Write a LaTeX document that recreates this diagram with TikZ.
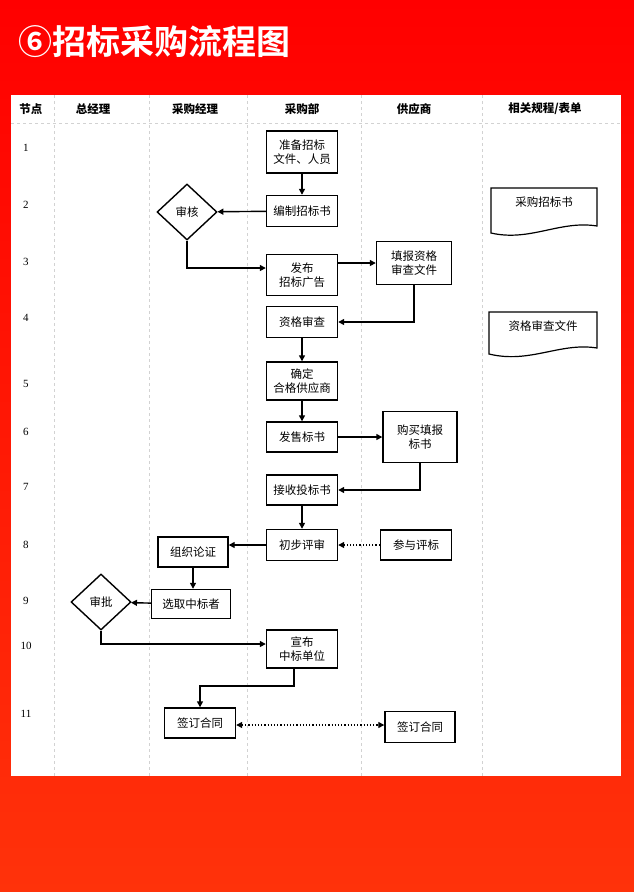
\documentclass[tikz,border=0pt]{standalone}
\usepackage{fontspec}
\setmainfont{Noto Sans CJK SC}
\newfontfamily\titlefont{Noto Sans CJK SC Bold}
\newfontfamily\numfont{Liberation Serif}
\usetikzlibrary{shapes.geometric,arrows.meta}
\begin{document}
\begin{tikzpicture}[x=1pt,y=-1pt,
  box/.style={draw,line width=1.4pt,align=center,inner sep=1pt,font=\fontsize{11.5}{13.5}\selectfont},
  dia/.style={draw,diamond,line width=1.4pt,minimum width=60pt,minimum height=56pt,inner sep=0pt,aspect=1.07,font=\fontsize{11.5}{13.5}\selectfont},
  arr/.style={line width=1.4pt,-{Triangle[length=6pt,width=6pt]}},
  dot/.style={line width=1.2pt,dotted},
  grid/.style={gray!35,dashed,line width=0.5pt},
  hdr/.style={font=\bfseries\fontsize{11.5}{13}\selectfont},
  num/.style={font=\numfont\fontsize{11}{12}\selectfont},
  doc/.style={draw,line width=1.2pt}]
\useasboundingbox (0,0) rectangle (634,892);
\shade[top color=red, bottom color={rgb,255:red,255;green,50;blue,10}] (0,0) rectangle (634,892);
\node[anchor=west,text=white,font=\titlefont\fontsize{34}{37}\selectfont] (title) at (15,42) {⑥招标采购流程图};
\fill[white] (11,95) rectangle (621,776);
\foreach \xx in {54,149,247,361,482} \draw[grid] (\xx,95) -- (\xx,776);
\draw[grid] (11,123) -- (621,123);
% headers
\node[hdr] (h0) at (31,109) {节点};
\node[hdr] (h1) at (93,109) {总经理};
\node[hdr] (h2) at (195,109) {采购经理};
\node[hdr] (h3) at (302,109) {采购部};
\node[hdr] (h4) at (414,109) {供应商};
\node[hdr] (h5) at (545,109) {相关规程/表单};
% row numbers
\foreach \n/\yy in {1/148,2/205,3/262,4/318,5/384,6/432,7/487,8/545,9/601,10/646,11/714}
  \node[num] (r\n) at (26,\yy) {\n};
% nodes
\node[box,minimum width=71pt,minimum height=42pt] (a1) at (302,152) {准备招标\\文件、人员};
\node[box,minimum width=71pt,minimum height=31pt] (a2) at (302,211) {编制招标书};
\node[dia] (sh) at (187,212) {审核};
\node[box,minimum width=71pt,minimum height=41pt] (a3) at (302,275) {发布\\招标广告};
\node[box,minimum width=75pt,minimum height=43pt] (s3) at (414,263) {填报资格\\审查文件};
\node[box,minimum width=71pt,minimum height=31pt] (a4) at (302,322) {资格审查};
\node[box,minimum width=71pt,minimum height=38pt] (a5) at (302,381) {确定\\合格供应商};
\node[box,minimum width=71pt,minimum height=30pt] (a6) at (302,437) {发售标书};
\node[box,minimum width=74pt,minimum height=51pt] (s6) at (420,437) {购买填报\\标书};
\node[box,minimum width=71pt,minimum height=30pt] (a7) at (302,490) {接收投标书};
\node[box,minimum width=71pt,minimum height=31pt] (a8) at (302,545) {初步评审};
\node[box,minimum width=71pt,minimum height=30pt] (s8) at (416,545) {参与评标};
\node[box,minimum width=70pt,minimum height=30pt] (m8) at (193,552) {组织论证};
\node[box,minimum width=79pt,minimum height=29pt] (m9) at (191,604) {选取中标者};
\node[dia] (sp) at (101,602) {审批};
\node[box,minimum width=71pt,minimum height=38pt] (a10) at (302,649) {宣布\\中标单位};
\node[box,minimum width=71pt,minimum height=30pt] (m11) at (200,723) {签订合同};
\node[box,minimum width=70pt,minimum height=31pt] (s11) at (420,727) {签订合同};
% documents
\draw[doc] (491,233) -- (491,188) -- (597,188) -- (597,226) .. controls (560,220) and (530,242) .. (491,233) -- cycle;
\node[font=\fontsize{11.5}{13}\selectfont] (d1) at (544,202) {采购招标书};
\draw[doc] (489,354) -- (489,312) -- (597,312) -- (597,348) .. controls (560,342) and (530,364) .. (489,354) -- cycle;
\node[font=\fontsize{11.5}{13}\selectfont] (d2) at (543,326) {资格审查文件};
% connectors
\draw[arr] (a1) -- (a2);
\draw[arr] (a2) -- (sh);
\coordinate (c1) at (a3.west |- 0,268);
\draw[arr] (sh.south) |- (c1);
\draw[arr] (a3.east |- s3) -- (s3.west);
\draw[arr] (s3.south) |- (a4.east);
\draw[arr] (a4) -- (a5);
\draw[arr] (a5) -- (a6);
\draw[arr] (a6) -- (s6);
\draw[arr] (s6.south) |- (a7.east);
\draw[arr] (a7) -- (a8);
\draw[arr] (a8.west) -- (m8.east |- a8.west);
\draw[dot,-{Triangle[length=6pt,width=6pt]}] (s8) -- (a8);
\draw[arr] (m8) -- (m8 |- m9.north);
\draw[arr] (m9) -- (sp);
\coordinate (c2) at (a10.west |- 0,644);
\draw[arr] (sp.south) |- (c2);
\coordinate (c3) at (294,686);
\coordinate (c4) at (m11.north);
\draw[arr] (a10.south -| c3) -- (c3) -| (c4);
\coordinate (c5) at (m11.east |- 0,725);
\coordinate (c6) at (s11.west |- 0,725);
\draw[dot,{Triangle[length=6pt,width=6pt]}-{Triangle[length=6pt,width=6pt]}] (c5) -- (c6);
\end{tikzpicture}
\end{document}
